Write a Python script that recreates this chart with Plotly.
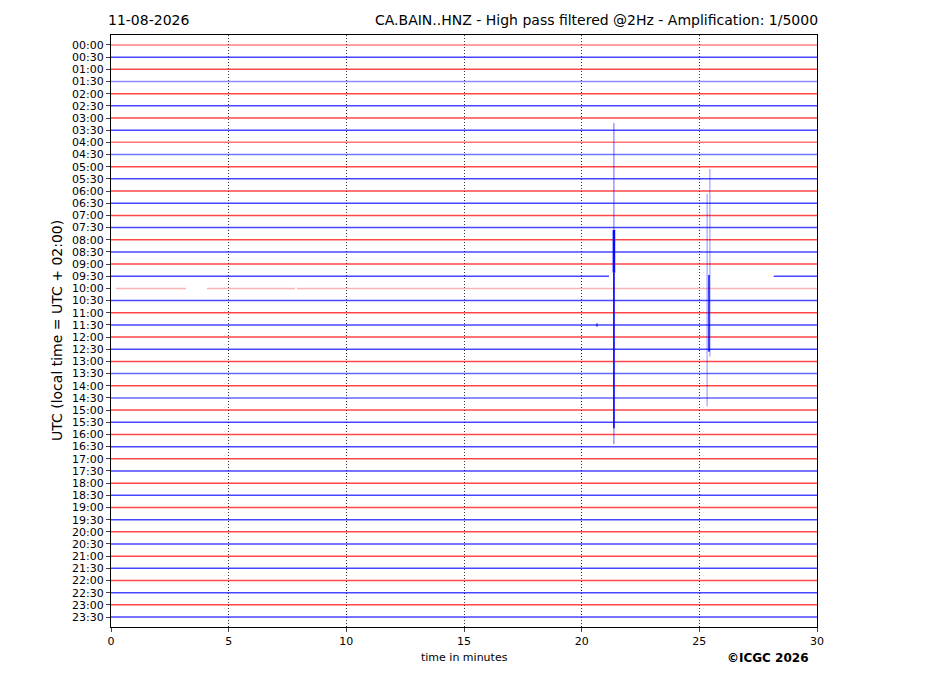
import plotly.graph_objects as go

# ---- data ----
row_labels = [f"{h:02d}:{m:02d}" for h in range(24) for m in (0, 30)]
# data coverage segments per row (minutes); default full 0-30
gaps_segments = {
    "09:30": [(0.0, 21.16), (28.16, 30.0)],
    "10:00": [(0.21, 3.19), (4.08, 7.82), (7.90, 30.0)],
}
# relative trace intensity per row (noisier rows appear paler)
row_intensity = {"00:00": 0.5, "01:30": 0.45, "04:00": 0.55, "04:30": 0.55,
                 "10:00": 0.3, "13:30": 0.6, "14:30": 0.6}
# seismic events: (time in minutes, top row offset, bottom row offset, width, opacity)
event_time = [21.37, 21.37, 21.37, 25.45, 25.33, 25.41]
event_top = [6.41, 15.2, 18.7, 10.19, 12.24, 18.9]
event_bottom = [32.8, 18.7, 31.5, 25.6, 29.7, 25.2]
event_width = [1.0, 2.6, 1.8, 1.0, 1.0, 1.8]
event_opacity = [0.6, 0.95, 0.85, 0.45, 0.45, 0.8]
small_blob_time = [20.62, 20.68]
small_blob_row = [23.0, 23.0]

x_ticks = [0, 5, 10, 15, 20, 25, 30]

fig = go.Figure()
for i, lab in enumerate(row_labels):
    segs = gaps_segments.get(lab, [(0.0, 30.0)])
    xs, ys = [], []
    for a, b in segs:
        xs += [a, b, None]
        ys += [i, i, None]
    op = row_intensity.get(lab, 0.72)
    col = f"rgba(255,0,0,{op})" if i % 2 == 0 else f"rgba(0,0,255,{op})"
    fig.add_trace(go.Scatter(x=xs, y=ys, mode="lines", line=dict(color=col, width=1.5),
                             hoverinfo="skip", showlegend=False))

for t, a, b, w, o in zip(event_time, event_top, event_bottom, event_width, event_opacity):
    fig.add_trace(go.Scatter(x=[t, t], y=[a, b], mode="lines",
                             line=dict(color=f"rgba(0,0,255,{o})", width=w),
                             hoverinfo="skip", showlegend=False))
fig.add_trace(go.Scatter(x=small_blob_time, y=small_blob_row, mode="lines",
                         line=dict(color="rgba(0,0,255,0.9)", width=3),
                         hoverinfo="skip", showlegend=False))

fig.update_layout(
    width=927, height=696,
    margin=dict(l=103, r=118, t=27, b=77),
    paper_bgcolor="white", plot_bgcolor="white",
    font=dict(family="DejaVu Sans", color="black", size=11),
    xaxis=dict(range=[0, 30], tickvals=x_ticks, ticks="outside", ticklen=4,
               showline=True, linecolor="black", linewidth=1.2, mirror=True,
               showgrid=True, gridcolor="rgba(0,0,0,0.8)", griddash="1px,2px", gridwidth=0.8,
               zeroline=False, tickfont=dict(size=11)),
    yaxis=dict(range=[47.82, -0.82], tickvals=list(range(len(row_labels))), ticktext=row_labels,
               ticks="outside", ticklen=4, showline=True, linecolor="black", linewidth=1.2,
               mirror=True, showgrid=False, zeroline=False, tickfont=dict(size=11)),
    annotations=[
        dict(text="11-08-2026", xref="paper", yref="paper", x=0, y=1, xanchor="left",
             yanchor="middle", xshift=-5, yshift=15, showarrow=False, font=dict(size=14)),
        dict(text="CA.BAIN..HNZ - High pass filtered @2Hz - Amplification: 1/5000",
             xref="paper", yref="paper", x=1, y=1, xanchor="right", yanchor="middle",
             xshift=3, yshift=15, showarrow=False, font=dict(size=14)),
        dict(text="UTC (local time = UTC + 02:00)", xref="paper", yref="paper", x=0, y=0.5,
             xanchor="center", yanchor="middle", xshift=-54, textangle=-90,
             showarrow=False, font=dict(size=14)),
        dict(text="time in minutes", xref="paper", yref="paper", x=0.5, y=0,
             xanchor="center", yanchor="middle", yshift=-30, showarrow=False,
             font=dict(size=11)),
        dict(text="<b>©ICGC 2026</b>", xref="paper", yref="paper", x=1, y=0,
             xanchor="right", yanchor="middle", xshift=-6, yshift=-31, showarrow=False,
             font=dict(size=12)),
    ],
)

fig.write_html("out.html")
